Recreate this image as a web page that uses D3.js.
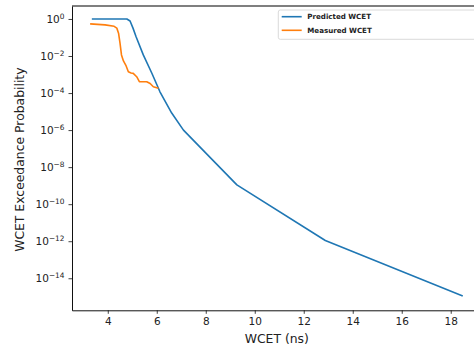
<!DOCTYPE html>
<html>
<head>
<meta charset="utf-8">
<script src="https://cdn.jsdelivr.net/npm/d3@7"></script>
<style>
  html, body { margin: 0; padding: 0; background: #fff; overflow: hidden; }
  svg { display: block; font-family: "DejaVu Sans", sans-serif; }
</style>
</head>
<body>
<svg id="chart" width="474" height="351"></svg>
<script>
// ---- Data ----
const predictedX = [3.35, 4.78, 4.91, 5.03, 5.16, 5.45, 5.80, 6.13, 6.61, 7.09, 9.27, 12.88, 18.49];
const predictedP = [1, 1, 0.78, 0.32, 0.107, 0.0115, 0.00117, 0.000117, 8.3e-6, 1.0e-6, 1.1e-9, 1.1e-12, 1.1e-15];

const measuredX = [3.28, 3.89, 4.26, 4.37, 4.44, 4.50, 4.56, 4.64, 4.75, 4.84, 4.95, 5.04, 5.18, 5.29, 5.59, 5.73, 5.86, 6.07];
const measuredP = [0.54, 0.48, 0.40, 0.32, 0.17, 0.049, 0.0115, 0.0054, 0.0029, 0.0014, 0.0012, 0.00115, 0.00076, 0.00041, 0.00041, 0.00033, 0.00022, 0.00018];

const xTicks = [4, 6, 8, 10, 12, 14, 16, 18];
const yTickExps = [0, -2, -4, -6, -8, -10, -12, -14];
const seriesNames = ["Predicted WCET", "Measured WCET"];
const seriesColors = ["#1f77b4", "#ff7f0e"];

// ---- Layout ----
const svg = d3.select("#chart");
const mLeft = 72, mRight = 481.6, mTop = 6, mBottom = 310.3;

const x = d3.scaleLinear().domain([2.54, 19.26]).range([mLeft, mRight]);
const y = d3.scaleLog().domain([Math.pow(10, -15.73), Math.pow(10, 0.70)]).range([mBottom, mTop]);

// spines
svg.append("line").attr("x1", mLeft).attr("x2", mRight).attr("y1", mTop).attr("y2", mTop)
  .attr("stroke", "#555").attr("stroke-width", 1.4);
svg.append("line").attr("x1", mRight).attr("x2", mRight).attr("y1", mTop).attr("y2", mBottom)
  .attr("stroke", "#111").attr("stroke-width", 1);

// x axis
const xAxis = d3.axisBottom(x).tickValues(xTicks).tickSize(3.5).tickSizeOuter(0).tickPadding(3.5).tickFormat(d3.format("d"));
const gx = svg.append("g").attr("transform", `translate(0,${mBottom})`).call(xAxis);
gx.select(".domain").attr("stroke", "#111").attr("stroke-width", 1);
gx.selectAll(".tick line").attr("stroke", "#111").attr("stroke-width", 0.8);
gx.selectAll(".tick text").attr("font-size", 10.5).attr("fill", "#222")
  .attr("font-family", "DejaVu Sans, sans-serif");

// y axis
const yAxis = d3.axisLeft(y).tickValues(yTickExps.map(e => Math.pow(10, e))).tickSize(3.5).tickSizeOuter(0).tickPadding(4).tickFormat(() => "");
const gy = svg.append("g").attr("transform", `translate(${mLeft},0)`).call(yAxis);
gy.select(".domain").attr("stroke", "#111").attr("stroke-width", 1);
gy.selectAll(".tick line").attr("stroke", "#111").attr("stroke-width", 0.8);
gy.selectAll(".tick text").each(function(d) {
  const e = Math.round(Math.log10(d));
  const t = d3.select(this).attr("font-size", 10.5).attr("fill", "#222")
    .attr("font-family", "DejaVu Sans, sans-serif").attr("dy", "0.32em");
  t.text(null);
  t.append("tspan").text("10");
  t.append("tspan").attr("font-size", 7.4).attr("dy", "-0.55em").text(e === 0 ? "0" : "\u2212" + Math.abs(e));
});

// axis labels
svg.append("text").attr("x", (mLeft + mRight) / 2).attr("y", 343).attr("text-anchor", "middle")
  .attr("font-size", 12.4).attr("fill", "#222").text("WCET (ns)");
svg.append("text").attr("transform", `translate(23.5,${(mTop + mBottom) / 2 + 1.5}) rotate(-90)`)
  .attr("text-anchor", "middle").attr("font-size", 12.4).attr("fill", "#222")
  .text("WCET Exceedance Probability");

// lines
const line = d3.line().x(d => x(d[0])).y(d => y(d[1]));
const predicted = predictedX.map((v, i) => [v, predictedP[i]]);
const measured = measuredX.map((v, i) => [v, measuredP[i]]);
svg.append("path").datum(predicted).attr("d", line).attr("fill", "none")
  .attr("stroke", seriesColors[0]).attr("stroke-width", 1.6).attr("stroke-linejoin", "round");
svg.append("path").datum(measured).attr("d", line).attr("fill", "none")
  .attr("stroke", seriesColors[1]).attr("stroke-width", 1.6).attr("stroke-linejoin", "round");

// legend
const lg = svg.append("g");
lg.append("rect").attr("x", 278.3).attr("y", 10).attr("width", 210).attr("height", 29.3)
  .attr("rx", 2).attr("fill", "#fff").attr("stroke", "#d0d0d0").attr("stroke-width", 0.8);
seriesNames.forEach((name, i) => {
  const yy = 16.7 + i * 13.6;
  lg.append("line").attr("x1", 281.7).attr("x2", 301.7).attr("y1", yy).attr("y2", yy)
    .attr("stroke", seriesColors[i]).attr("stroke-width", 1.6);
  lg.append("text").attr("x", 307.3).attr("y", yy + 2.5).attr("font-size", 7.1)
    .attr("font-weight", "bold").attr("fill", "#222").text(name);
});
</script>
</body>
</html>
